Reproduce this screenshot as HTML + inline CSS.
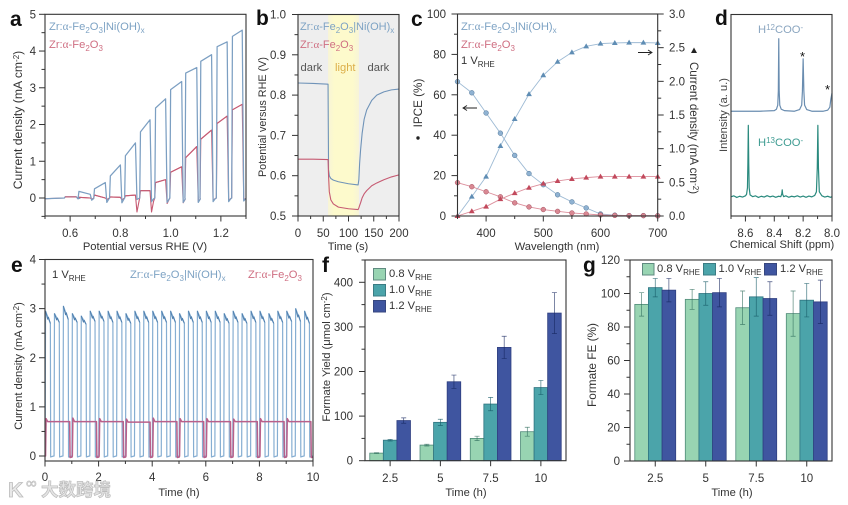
<!DOCTYPE html>
<html lang="en">
<head>
<meta charset="utf-8">
<title>Photoelectrochemical performance figure</title>
<style>
html,body{margin:0;padding:0;background:#fff;width:848px;height:505px;overflow:hidden}
svg{display:block;filter:blur(0.35px)}
text{font-family:"Liberation Sans","Noto Sans CJK SC",sans-serif;font-size:11.2px;fill:#333}
.pl{font-size:21px;font-weight:bold;fill:#111}
.s{font-size:8px}
.g{font-family:"Liberation Serif",serif}
.bl{fill:#7ea3c4}
.rd{fill:#cf6f82}
.tk{font-size:11.5px}
</style>
</head>
<body>
<svg id="fig" xmlns="http://www.w3.org/2000/svg" width="848" height="505" viewBox="0 0 848 505">
  <rect x="298" y="14.5" width="101" height="201.5" fill="#eeeeee"/>
  <defs><linearGradient id="yg" x1="0" x2="1" y1="0" y2="0"><stop offset="0" stop-color="#f7f4d8"/><stop offset="0.2" stop-color="#fdfacc"/><stop offset="0.8" stop-color="#fdfacc"/><stop offset="1" stop-color="#f7f4d8"/></linearGradient></defs>
  <rect x="328" y="14.5" width="31" height="201.5" fill="url(#yg)"/>
  <g id="marks"></g>
  <g id="axes"></g>

  <text class="pl" x="10" y="26">a</text>
  <text class="pl" x="256" y="25">b</text>
  <text class="pl" x="411" y="26">c</text>
  <text class="pl" x="715" y="25">d</text>
  <text class="pl" x="11" y="272">e</text>
  <text class="pl" x="322" y="272">f</text>
  <text class="pl" x="583" y="272">g</text>

  <text x="145" y="250" text-anchor="middle">Potential versus RHE (V)</text>
  <text x="22" y="120" text-anchor="middle" transform="rotate(-90 22 120)" style="font-size:12.2px">Current density (mA cm<tspan class="s" dy="-3">-2</tspan><tspan dy="3">)</tspan></text>
  <text class="bl" x="49" y="30">Zr:<tspan class="g">α</tspan>-Fe<tspan class="s" dy="3">2</tspan><tspan dy="-3">O</tspan><tspan class="s" dy="3">3</tspan><tspan dy="-3">|Ni(OH)</tspan><tspan class="s" dy="3">x</tspan></text>
  <text class="rd" x="49" y="48">Zr:<tspan class="g">α</tspan>-Fe<tspan class="s" dy="3">2</tspan><tspan dy="-3">O</tspan><tspan class="s" dy="3">3</tspan></text>

  <text x="348" y="250" text-anchor="middle">Time (s)</text>
  <text x="266" y="117" text-anchor="middle" transform="rotate(-90 266 117)" style="font-size:10.8px">Potential versus RHE (V)</text>
  <text class="bl" x="300" y="30" style="font-size:11px">Zr:<tspan class="g">α</tspan>-Fe<tspan class="s" dy="3">2</tspan><tspan dy="-3">O</tspan><tspan class="s" dy="3">3</tspan><tspan dy="-3">|Ni(OH)</tspan><tspan class="s" dy="3">x</tspan></text>
  <text class="rd" x="300" y="48" style="font-size:11px">Zr:<tspan class="g">α</tspan>-Fe<tspan class="s" dy="3">2</tspan><tspan dy="-3">O</tspan><tspan class="s" dy="3">3</tspan></text>
  <text x="300.5" y="71" style="fill:#555">dark</text>
  <text x="335" y="71" style="fill:#dcae48">light</text>
  <text x="367.5" y="71" style="fill:#555">dark</text>

  <text x="557" y="250" text-anchor="middle">Wavelength (nm)</text>
  <text x="422" y="103" text-anchor="middle" transform="rotate(-90 422 103)" style="font-size:11.7px">IPCE (%)</text>
  <circle cx="418" cy="138" r="1.7" fill="#222"/>
  <text x="690" y="128" text-anchor="middle" transform="rotate(90 690 128)" style="font-size:11.6px">Current density (mA cm<tspan class="s" dy="-3">-2</tspan><tspan dy="3">)</tspan></text>
  <polygon points="694,47.5 697,53 691,53" fill="#222"/>
  <text class="bl" x="461" y="30">Zr:<tspan class="g">α</tspan>-Fe<tspan class="s" dy="3">2</tspan><tspan dy="-3">O</tspan><tspan class="s" dy="3">3</tspan><tspan dy="-3">|Ni(OH)</tspan><tspan class="s" dy="3">x</tspan></text>
  <text class="rd" x="461" y="48">Zr:<tspan class="g">α</tspan>-Fe<tspan class="s" dy="3">2</tspan><tspan dy="-3">O</tspan><tspan class="s" dy="3">3</tspan></text>
  <text x="461" y="64">1 V<tspan class="s" dy="3">RHE</tspan></text>
  <g stroke="#222" stroke-width="0.9" fill="none"><path d="M477 108H463M467 105.500L463 108L467 110.500"/></g>
  <g stroke="#222" stroke-width="0.9" fill="none"><path d="M638 52.500H652M648 50L652 52.500L648 55"/></g>

  <text x="782" y="248" text-anchor="middle">Chemical Shift (ppm)</text>
  <text x="727" y="115" text-anchor="middle" transform="rotate(-90 727 115)" style="fill:#444">Intensity (a. u.)</text>
  <text x="758" y="33" style="fill:#8ba6c0">H<tspan class="s" dy="-3">12</tspan><tspan dy="3">COO</tspan><tspan class="s" dy="-3">-</tspan></text>
  <text x="758" y="146" style="fill:#3f9c92">H<tspan class="s" dy="-3">13</tspan><tspan dy="3">COO</tspan><tspan class="s" dy="-3">-</tspan></text>
  <text x="802.500" y="61" text-anchor="middle" style="font-size:13px;fill:#111">*</text>
  <text x="827.500" y="94" text-anchor="middle" style="font-size:13px;fill:#111">*</text>

  <text x="179" y="496" text-anchor="middle">Time (h)</text>
  <text x="22" y="366" text-anchor="middle" transform="rotate(-90 22 366)">Current density (mA cm<tspan class="s" dy="-3">-2</tspan><tspan dy="3">)</tspan></text>
  <text x="52" y="278">1 V<tspan class="s" dy="3">RHE</tspan></text>
  <text class="bl" x="130" y="278">Zr:<tspan class="g">α</tspan>-Fe<tspan class="s" dy="3">2</tspan><tspan dy="-3">O</tspan><tspan class="s" dy="3">3</tspan><tspan dy="-3">|Ni(OH)</tspan><tspan class="s" dy="3">x</tspan></text>
  <text class="rd" x="248" y="278">Zr:<tspan class="g">α</tspan>-Fe<tspan class="s" dy="3">2</tspan><tspan dy="-3">O</tspan><tspan class="s" dy="3">3</tspan></text>

  <text x="466" y="496" text-anchor="middle">Time (h)</text>
  <text x="330" y="357" text-anchor="middle" transform="rotate(-90 330 357)">Formate Yield (μmol cm<tspan class="s" dy="-3">-2</tspan><tspan dy="3">)</tspan></text>
  <rect x="373.500" y="268.500" width="12" height="11.500" fill="#98d4b2" stroke="#5f8a80"/>
  <rect x="373.500" y="284.500" width="12" height="11.500" fill="#4ba4aa" stroke="#3b7c84"/>
  <rect x="373.500" y="300.500" width="12" height="11.500" fill="#3f55a0" stroke="#37477f"/>
  <text x="389" y="277">0.8 V<tspan class="s" dy="3">RHE</tspan></text>
  <text x="389" y="293">1.0 V<tspan class="s" dy="3">RHE</tspan></text>
  <text x="389" y="309">1.2 V<tspan class="s" dy="3">RHE</tspan></text>

  <text x="732" y="496" text-anchor="middle">Time (h)</text>
  <text x="596" y="365" text-anchor="middle" transform="rotate(-90 596 365)" style="font-size:11.8px">Formate FE (%)</text>
  <rect x="642.500" y="263.500" width="11.500" height="11.500" fill="#98d4b2" stroke="#5f8a80"/>
  <rect x="703.500" y="263.500" width="12" height="11.500" fill="#4ba4aa" stroke="#3b7c84"/>
  <rect x="764.500" y="263.500" width="12" height="11.500" fill="#3f55a0" stroke="#37477f"/>
  <text x="657" y="272">0.8 V<tspan class="s" dy="3">RHE</tspan></text>
  <text x="718.500" y="272">1.0 V<tspan class="s" dy="3">RHE</tspan></text>
  <text x="780" y="272">1.2 V<tspan class="s" dy="3">RHE</tspan></text>

  <g>
    <text x="8" y="497" style="font-size:21px;font-weight:bold;fill:#e8e8e8;stroke:#bdbdbd;stroke-width:0.8">K</text>
    <text x="26" y="488" style="font-size:15px;fill:#e8e8e8;stroke:#bdbdbd;stroke-width:0.6">∞</text>
    <text x="41" y="496" style="font-size:17.500px;font-weight:bold;fill:#e4e4e4;stroke:#bcbcbc;stroke-width:0.7">大数跨境</text>
  </g>
</svg>
<script>
// ---- Panel a: chopped LSV ----
const aPulseOn  = [0.58,0.635,0.697,0.76,0.82,0.88,0.94,1.0,1.06,1.12,1.185,1.246];
const aPulseOff = [0.625,0.68,0.74,0.80,0.86,0.918,0.98,1.044,1.104,1.163,1.225,1.285];
const aBlueStart = [0.03,0.18,0.25,0.6,1.15,1.8,2.45,2.95,3.4,3.72,4.12,4.4];
const aBlueEnd   = [0.03,0.1,0.42,0.9,1.5,2.13,2.7,3.17,3.55,3.9,4.25,4.57];
const aBlueDip   = [-0.02,-0.06,-0.12,-0.13,-0.04,-0.1,-0.12,-0.12,-0.12,-0.1,-0.1,-0.08];
const aRedStart = [0.03,0.02,0.08,0.03,0.06,0.2,0.42,0.7,1.1,1.6,2.03,2.4];
const aRedEnd   = [0.03,0.0,0.0,0.02,0.08,0.2,0.5,0.85,1.4,1.85,2.23,2.55];
const aRedDip   = [-0.02,-0.03,-0.04,-0.05,-0.38,-0.38,-0.15,-0.13,-0.1,-0.07,-0.07,-0.05];
const aXMajor = [0.6,0.8,1.0,1.2];
const aXMinor = [0.5,0.7,0.9,1.1,1.3];
const aYMajor = [0,1,2,3,4,5];
const aYMinor = [-0.5,0.5,1.5,2.5,3.5,4.5];
// ---- Panel b: OCP ----
const bTime = [0,30,59.5,60.5,62,65,70,80,100,119,120.5,122,124,127,131,136,146,156,170,185,200];
const bBlue = [0.83,0.829,0.827,0.615,0.6,0.593,0.589,0.585,0.58,0.577,0.59,0.63,0.665,0.705,0.74,0.763,0.787,0.8,0.808,0.813,0.815];
const bRed  = [0.641,0.641,0.64,0.6,0.56,0.54,0.53,0.522,0.518,0.516,0.52,0.526,0.533,0.545,0.555,0.563,0.575,0.582,0.59,0.597,0.602];
const bXMajor = [0,50,100,150,200];
const bXMinor = [25,75,125,175];
const bYMajor = [0.5,0.6,0.7,0.8,0.9,1.0];
const bYMinor = [0.55,0.65,0.75,0.85,0.95];
// ---- Panel c: IPCE and integrated current ----
const cWave = [350,375,400,425,450,475,500,525,550,575,600,625,650,675,700];
const cIpceBlue = [66.5,61,51,41,30,21,15.5,10.5,7,4,1,0.4,0.2,0.2,0.1];
const cIpceRed  = [16.5,14.5,12,9.5,6.5,4.5,3.2,2.3,1.5,1,0.5,0.3,0.2,0.2,0.1];
const cCurBlue = [0,0.288,0.585,1.04,1.44,1.81,2.09,2.29,2.43,2.52,2.56,2.57,2.575,2.575,2.57];
const cCurRed  = [0,0.07,0.14,0.25,0.34,0.42,0.48,0.52,0.55,0.57,0.585,0.585,0.585,0.585,0.585];
const cXMajor = [400,500,600,700];
const cXMinor = [350,450,550,650];
const cLMajor = [0,20,40,60,80,100];
const cLMinor = [10,30,50,70,90];
const cRMajor = [0,0.5,1,1.5,2,2.5,3];
const cRMinor = [0.25,0.75,1.25,1.75,2.25,2.75];
// ---- Panel d: NMR ----
const dBluePpm = [8.7,8.5,8.40,8.385,8.376,8.372,8.369,8.366,8.362,8.352,8.33,8.26,8.225,8.21,8.205,8.2,8.195,8.19,8.175,8.14,8.06,8.03,8.015,8.008,8.0];
const dBlueInt = [52,52,52.3,53,55,62,88,62,55,53,52.3,52,52.8,55,62,78,62,55,52.8,52,52,52.5,54,58,61];
const dGreenPpm = [8.7,8.68,8.66,8.64,8.62,8.60,8.592,8.586,8.583,8.58,8.577,8.574,8.568,8.55,8.53,8.51,8.49,8.47,8.45,8.43,8.41,8.39,8.37,8.355,8.348,8.345,8.342,8.335,8.32,8.3,8.28,8.26,8.24,8.22,8.2,8.18,8.16,8.14,8.12,8.108,8.102,8.098,8.094,8.088,8.07,8.05,8.03,8.01,8.0];
const dGreenInt = [9.5,10,9.2,9.8,9.4,10,10.8,14,26,45,26,14,10.5,9.6,10,9.2,9.8,9.4,10.1,9.5,9.9,9.3,9.8,9.6,11,13,10.8,9.6,10,9.3,9.8,9.5,10,9.4,9.9,9.3,9.9,9.5,10.2,12,24,45,24,12,10,9.4,9.8,9.3,9.6];
const dXMajor = [8.6,8.4,8.2,8.0];
const dXMinor = [8.7,8.5,8.3,8.1];
// ---- Panel e: long-term chopped stability ----
const eBluePeak = [2.95,2.9,3.05,2.9,2.85,2.95,2.95,2.95,2.95,2.9,2.95,2.95,2.95,2.95,2.95,2.9,2.95,2.95,2.95,2.95,2.9,2.95,2.9,2.95,2.95,2.9,2.95,2.95,3.0,2.95];
const eBlueEnd  = [2.7,2.72,2.78,2.72,2.68,2.74,2.74,2.72,2.72,2.7,2.72,2.72,2.72,2.72,2.72,2.7,2.72,2.72,2.72,2.72,2.7,2.72,2.7,2.72,2.72,2.7,2.72,2.74,2.74,2.7];
const eRedPeak  = [0.76,0.77,0.76,0.75,0.77,0.76,0.76,0.75,0.76,0.76];
const eRedLevel = [0.7,0.7,0.7,0.69,0.7,0.7,0.7,0.7,0.7,0.7];
const eXMajor = [0,2,4,6,8,10];
const eXMinor = [1,3,5,7,9];
const eYMajor = [0,1,2,3,4];
const eYMinor = [0.5,1.5,2.5,3.5];
// ---- Panels f, g: bars ----
const barCategories = ['2.5','5','7.5','10'];
const barSeriesNames = ['0.8','1.0','1.2'];
const fYield08 = [17,35,50,65];
const fYield10 = [46,86,127,164];
const fYield12 = [90,177,254,331];
const fErr08 = [1,2,5,10];
const fErr10 = [2,7,15,16];
const fErr12 = [6,15,25,46];
const fYMajor = [0,100,200,300,400];
const fYMinor = [50,150,250,350,450];
const gFe08 = [93.5,96.5,91.5,88];
const gFe10 = [103.5,100,98,96];
const gFe12 = [102,100.5,97,95];
const gErr08 = [7,6,10,13.5];
const gErr10 = [5.5,7,11.5,10];
const gErr12 = [7,8.5,10,13];
const gYMajor = [0,20,40,60,80,100,120];
const gYMinor = [10,30,50,70,90,110];

const NS = 'http://www.w3.org/2000/svg';
const marks = document.getElementById('marks');
const axesG = document.getElementById('axes');
function mk(tag, parent, name, attrs) {
  const el = document.createElementNS(NS, tag);
  
  
  for (const k in attrs) el.setAttribute(k, attrs[k]);
  parent.appendChild(el);
  return el;
}
function linear(d0, d1, r0, r1) { return v => r0 + (v - d0) * (r1 - r0) / (d1 - d0); }
function fmt(v, dec) { return v.toFixed(dec); }
function frame(id, l, t, r, b) {
  mk('rect', axesG, id + '-plot-frame', {x:l, y:t, width:r-l, height:b-t, fill:'none', stroke:'#333', 'stroke-width':1.1});
}
function tick(id, x1, y1, x2, y2) {
  mk('line', axesG, id, {x1:x1, y1:y1, x2:x2, y2:y2, stroke:'#333', 'stroke-width':1});
}
function xAxis(id, sx, bottom, major, minor, dec, labelY) {
  major.forEach(v => {
    tick(id + '-x-tick', sx(v), bottom, sx(v), bottom + 5.5);
    const t = mk('text', axesG, id + '-x-tick-label', {x:sx(v), y:labelY, 'text-anchor':'middle', 'class':'tk'});
    t.textContent = fmt(v, dec);
  });
  minor.forEach(v => tick(id + '-x-minor-tick', sx(v), bottom, sx(v), bottom + 3));
}
function yAxis(id, sy, x, major, minor, dec, labelX, side) {
  const dir = side === 'right' ? 1 : -1;
  major.forEach(v => {
    tick(id + '-y-tick', x, sy(v), x + dir * 6, sy(v));
    const t = mk('text', axesG, id + '-y-tick-label', {x:labelX, y:sy(v) + 4, 'text-anchor': side === 'right' ? 'start' : 'end', 'class':'tk'});
    t.textContent = fmt(v, dec);
  });
  minor.forEach(v => tick(id + '-y-minor-tick', x, sy(v), x + dir * 3.5, sy(v)));
}
function poly(name, pts, color, w) {
  return mk('polyline', marks, name, {points: pts.map(p => p[0].toFixed(2) + ',' + p[1].toFixed(2)).join(' '), fill:'none', stroke:color, 'stroke-width':w, 'stroke-linejoin':'round'});
}

// Panel a
(function () {
  const sx = linear(0.5, 1.3, 45, 246), sy = linear(0, 5, 198, 14.3);
  function trace(st, en, dip) {
    const p = [[sx(0.5), sy(-0.02)]];
    aPulseOn.forEach((on, i) => {
      p.push([sx(on - 0.003), sy(0)], [sx(on), sy(st[i])], [sx(aPulseOff[i]), sy(en[i])],
             [sx(aPulseOff[i] + 0.006), sy(dip[i])], [sx(aPulseOff[i] + 0.014), sy(dip[i] * 0.25)]);
    });
    p.push([sx(1.3), sy(-0.02)]);
    return p;
  }
  poly('a-series-bare', trace(aRedStart, aRedEnd, aRedDip), '#c65a72', 1.1);
  poly('a-series-coated', trace(aBlueStart, aBlueEnd, aBlueDip), '#7c9fc2', 1.25);
  // red plateaus stay visible above the blue edges
  aPulseOn.forEach((on, i) => {
    poly('a-plateau-bare', [[sx(on), sy(aRedStart[i])], [sx(aPulseOff[i]), sy(aRedEnd[i])]], '#c65a72', 1.1);
  });
  frame('a', 45, 14.3, 246, 216);
  xAxis('a', sx, 216, aXMajor, aXMinor, 1, 237);
  yAxis('a', sy, 45, aYMajor, aYMinor, 0, 36);
})();

// Panel b
(function () {
  const sx = linear(0, 200, 298, 399), sy = linear(0.5, 1.0, 216, 14.5);
  poly('b-series-coated', bTime.map((t, i) => [sx(t), sy(bBlue[i])]), '#6f93b8', 1.1);
  poly('b-series-bare', bTime.map((t, i) => [sx(t), sy(bRed[i])]), '#c65a72', 1.1);
  frame('b', 298, 14.5, 399, 216);
  xAxis('b', sx, 216, bXMajor, bXMinor, 0, 237);
  yAxis('b', sy, 298, bYMajor, bYMinor, 1, 286);
})();

// Panel c
(function () {
  const sx = linear(350, 700, 457.5, 657.7), sl = linear(0, 100, 216, 14), sr = linear(0, 3, 216, 14);
  poly('c-line-ipce-coated', cWave.map((w, i) => [sx(w), sl(cIpceBlue[i])]), '#9dbad4', 0.9);
  poly('c-line-current-coated', cWave.map((w, i) => [sx(w), sr(cCurBlue[i])]), '#9dbad4', 0.9);
  poly('c-line-ipce-bare', cWave.map((w, i) => [sx(w), sl(cIpceRed[i])]), '#dc8f9c', 0.9);
  poly('c-line-current-bare', cWave.map((w, i) => [sx(w), sr(cCurRed[i])]), '#dc8f9c', 0.9);
  function circles(name, vals, fill, stroke) {
    vals.forEach((v, i) => mk('circle', marks, name, {cx:sx(cWave[i]), cy:sl(v), r:2.4, fill:fill, stroke:stroke, 'stroke-width':0.5}));
  }
  function tris(name, vals, fill) {
    vals.forEach((v, i) => {
      const x = sx(cWave[i]), y = sr(v);
      mk('polygon', marks, name, {points:(x)+','+(y-3)+' '+(x+2.9)+','+(y+2)+' '+(x-2.9)+','+(y+2), fill:fill});
    });
  }
  circles('c-point-ipce-coated', cIpceBlue, '#8fb2d2', '#4f7496');
  tris('c-point-current-coated', cCurBlue, '#5f8db4');
  circles('c-point-ipce-bare', cIpceRed, '#d98893', '#a34e5e');
  tris('c-point-current-bare', cCurRed, '#c2495c');
  frame('c', 457.5, 14, 657.7, 216);
  xAxis('c', sx, 216, cXMajor, cXMinor, 0, 237);
  yAxis('c-left', sl, 457.5, cLMajor, cLMinor, 0, 446);
  yAxis('c-right', sr, 657.7, cRMajor, cRMinor, 1, 669, 'right');
})();

// Panel d
(function () {
  const sx = linear(8.7, 8.0, 731, 832), sy = linear(0, 100, 216, 14.5);
  poly('d-spectrum-h12', dBluePpm.map((p, i) => [sx(p), sy(dBlueInt[i])]), '#6a8db0', 1.2);
  poly('d-spectrum-h13', dGreenPpm.map((p, i) => [sx(p), sy(dGreenInt[i])]), '#2a8a7e', 1.2);
  frame('d', 731, 14.5, 832, 216);
  xAxis('d', sx, 216, dXMajor, dXMinor, 1, 237);
})();

// Panel e
(function () {
  const sx = linear(0, 10, 45, 313), sy = linear(0, 4, 456, 259.5);
  const bp = [[sx(0), sy(0)]];
  const period = 10 / eBluePeak.length;
  eBluePeak.forEach((pk, i) => {
    const t = i * period;
    bp.push([sx(t + 0.005), sy(0)], [sx(t + 0.02), sy(pk)], [sx(t + 0.2), sy(eBlueEnd[i])],
            [sx(t + 0.212), sy(-0.02)], [sx(t + period - 0.01), sy(0)]);
  });
  poly('e-series-coated', bp, '#86aed2', 1.2);
  eBluePeak.forEach((pk, i) => {
    const t = i * period;
    poly('e-cycle-top', [[sx(t + 0.02), sy(pk)], [sx(t + 0.1), sy((pk + eBlueEnd[i]) / 2 - 0.04)],
         [sx(t + 0.13), sy((pk + eBlueEnd[i]) / 2)], [sx(t + 0.2), sy(eBlueEnd[i])]], '#4f7fae', 1);
  });
  const rp = [[sx(0), sy(0)]];
  eRedPeak.forEach((pk, i) => {
    rp.push([sx(i + 0.02), sy(0)], [sx(i + 0.04), sy(pk)], [sx(i + 0.1), sy(eRedLevel[i])],
            [sx(i + 0.92), sy(eRedLevel[i])], [sx(i + 0.935), sy(-0.03)], [sx(i + 1.01), sy(-0.02)]);
  });
  poly('e-series-bare', rp, '#b9608a', 1.5);
  frame('e', 45, 259.5, 313, 461);
  xAxis('e', sx, 461, eXMajor, eXMinor, 0, 481);
  yAxis('e', sy, 45, eYMajor, eYMinor, 0, 36);
})();

// Bars
function bars(id, left, right, top, bottom, yMax, seriesVals, seriesErr, major, minor, labelX) {
  const sy = linear(0, yMax, bottom, top);
  const band = (right - left) / barCategories.length;
  const bw = band * 0.27;
  const fills = ['#98d4b2', '#4ba4aa', '#3f55a0'];
  const strokes = ['#4f8a78', '#2f7480', '#2f3f80'];
  const errs = ['#2f6d5c', '#155a66', '#16275f'];
  seriesVals.forEach((vals, s) => {
    vals.forEach((v, c) => {
      const cx = left + band * (c + 0.5) + (s - 1) * bw;
      mk('rect', marks, id + '-bar-' + barSeriesNames[s] + '-' + barCategories[c], {x:cx - bw / 2, y:sy(v), width:bw, height:bottom - sy(v), fill:fills[s], stroke:strokes[s], 'stroke-width':0.8});
    });
  });
  seriesVals.forEach((vals, s) => {
    vals.forEach((v, c) => {
      const cx = left + band * (c + 0.5) + (s - 1) * bw;
      const hi = sy(v + seriesErr[s][c]), lo = sy(v - seriesErr[s][c]);
      mk('path', marks, id + '-error-bar-' + barSeriesNames[s] + '-' + barCategories[c], {d:'M'+(cx-2.5)+' '+hi+'H'+(cx+2.5)+'M'+cx+' '+hi+'V'+lo+'M'+(cx-2.5)+' '+lo+'H'+(cx+2.5), stroke:errs[s], 'stroke-width':0.7, 'stroke-opacity':0.8, fill:'none'});
    });
  });
  frame(id, left, top, right, bottom);
  barCategories.forEach((c, i) => {
    const x = left + band * (i + 0.5);
    tick(id + '-x-tick', x, bottom, x, bottom + 5.5);
    const t = mk('text', axesG, id + '-x-tick-label', {x:x, y:482, 'text-anchor':'middle', 'class':'tk'});
    t.textContent = c;
  });
  yAxis(id, sy, left, major, minor, 0, labelX);
}
bars('f', 365, 566, 260, 460.7, 450, [fYield08, fYield10, fYield12], [fErr08, fErr10, fErr12], fYMajor, fYMinor, 353);
bars('g', 630, 832, 260, 461, 120, [gFe08, gFe10, gFe12], [gErr08, gErr10, gErr12], gYMajor, gYMinor, 620);
</script>
</body>
</html>
